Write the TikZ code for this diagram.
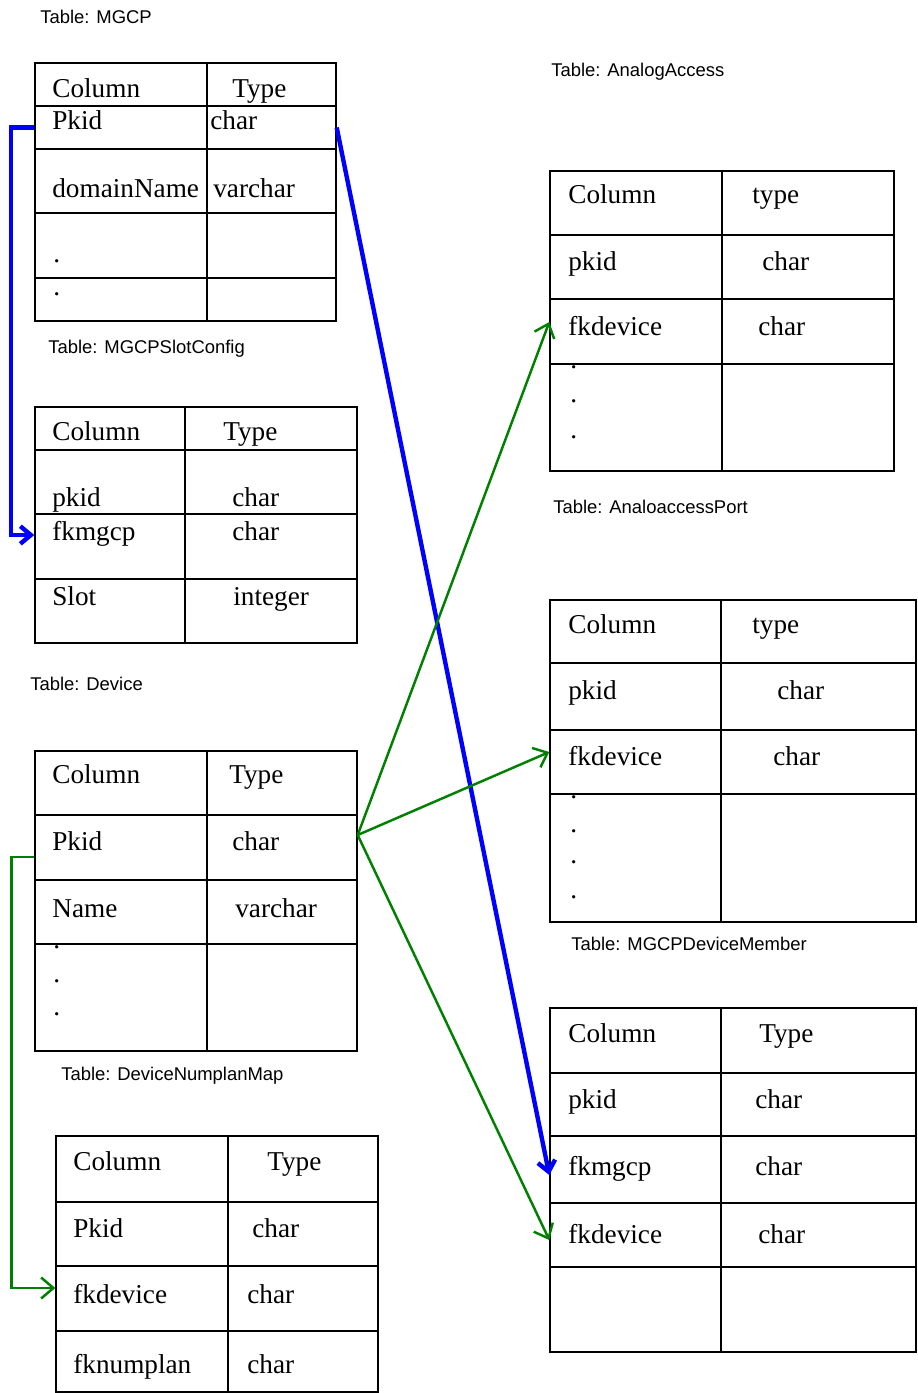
\documentclass[tikz,border=0pt]{standalone}
\usepackage{fontspec}
\setmainfont{Liberation Serif}
\newfontfamily\titlefont{Liberation Sans}
\usetikzlibrary{fit,arrows.meta}

% en rad i en tabell: navn, x venstre, x midt, x hoyre, y topp, y bunn
\newcommand{\tabrow}[6]{%
  \node[cell, fit={(#2,#5) (#3,#6)}] (#1l) {};
  \node[cell, fit={(#3,#5) (#4,#6)}] (#1r) {};}
% tekst i en rad: navn, x kolonne, kolonne, x type, type, grunnlinje
\newcommand{\rowtext}[6]{%
  \node[txt] (#1-name) at (#2,#6) {#3};
  \node[txt] (#1-type) at (#4,#6) {#5};}

\tikzset{
  cell/.style={draw, line width=0.8pt, inner sep=0pt},
  txt/.style={anchor=base west, inner sep=0pt, font=\fontsize{15.5}{18}\selectfont},
  title/.style={anchor=base west, inner sep=0pt, font=\titlefont\fontsize{10.5}{12}\selectfont},
  bluelink/.style={draw=blue, line width=2.5pt, -{Straight Barb[length=6pt,width=10pt]}},
  greenlink/.style={draw=green!50!black, line width=1.4pt, -{Straight Barb[length=7pt,width=12pt]}}
}

\begin{document}
\begin{tikzpicture}[x=0.02cm, y=-0.02cm]
        \useasboundingbox (0,0) rectangle (918,1393);

        % Tabell: MGCP
        \node[title] (t-mgcp) at (40,23) {Table: MGCP};
        \tabrow{mgcp0}{35}{207}{336}{63}{106}
        \tabrow{mgcp1}{35}{207}{336}{106}{149}
        \tabrow{mgcp2}{35}{207}{336}{149}{213}
        \tabrow{mgcp3}{35}{207}{336}{213}{278}
        \tabrow{mgcp4}{35}{207}{336}{278}{321}
        \rowtext{mgcp0}{52}{Column}{232}{Type}{97}
        \rowtext{mgcp1}{52}{Pkid}{210}{char}{129}
        \rowtext{mgcp2}{52}{domainName}{213}{varchar}{197}
        \node[txt] (mgcp3-dot) at (53,262) {.};
        \node[txt] (mgcp4-dot) at (53,295) {.};

        % Tabell: MGCPSlotConfig
        \node[title] (t-slot) at (48,353) {Table: MGCPSlotConfig};
        \tabrow{slot0}{35}{185}{357}{407}{450}
        \tabrow{slot1}{35}{185}{357}{450}{514}
        \tabrow{slot2}{35}{185}{357}{514}{579}
        \tabrow{slot3}{35}{185}{357}{579}{643}
        \rowtext{slot0}{52}{Column}{223}{Type}{440}
        \rowtext{slot1}{52}{pkid}{232}{char}{506}
        \rowtext{slot2}{52}{fkmgcp}{232}{char}{540}
        \rowtext{slot3}{52}{Slot}{233}{integer}{605}

        % Tabell: Device
        \node[title] (t-dev) at (30,690) {Table: Device};
        \tabrow{dev0}{35}{207}{357}{751}{815}
        \tabrow{dev1}{35}{207}{357}{815}{880}
        \tabrow{dev2}{35}{207}{357}{880}{944}
        \tabrow{dev3}{35}{207}{357}{944}{1051}
        \rowtext{dev0}{52}{Column}{229}{Type}{783}
        \rowtext{dev1}{52}{Pkid}{232}{char}{850}
        \rowtext{dev2}{52}{Name}{235}{varchar}{917}
        \node[txt] (dev3-dot1) at (53,948) {.};
        \node[txt] (dev3-dot2) at (53,982) {.};
        \node[txt] (dev3-dot3) at (53,1015) {.};

        % Tabell: DeviceNumplanMap
        \node[title] (t-dnm) at (61,1080) {Table: DeviceNumplanMap};
        \tabrow{dnm0}{56}{228}{378}{1136}{1202}
        \tabrow{dnm1}{56}{228}{378}{1202}{1266}
        \tabrow{dnm2}{56}{228}{378}{1266}{1331}
        \tabrow{dnm3}{56}{228}{378}{1331}{1392}
        \rowtext{dnm0}{73}{Column}{267}{Type}{1170}
        \rowtext{dnm1}{73}{Pkid}{252}{char}{1237}
        \rowtext{dnm2}{73}{fkdevice}{247}{char}{1303}
        \rowtext{dnm3}{73}{fknumplan}{247}{char}{1373}

        % Tabell: AnalogAccess
        \node[title] (t-aa) at (551,76) {Table: AnalogAccess};
        \tabrow{aa0}{550}{722}{894}{171}{235}
        \tabrow{aa1}{550}{722}{894}{235}{299}
        \tabrow{aa2}{550}{722}{894}{299}{364}
        \tabrow{aa3}{550}{722}{894}{364}{471}
        \rowtext{aa0}{568}{Column}{752}{type}{203}
        \rowtext{aa1}{568}{pkid}{762}{char}{270}
        \rowtext{aa2}{568}{fkdevice}{758}{char}{335}
        \node[txt] (aa3-dot1) at (570,368) {.};
        \node[txt] (aa3-dot2) at (570,402) {.};
        \node[txt] (aa3-dot3) at (570,438) {.};

        % Tabell: AnaloaccessPort
        \node[title] (t-aap) at (553,513) {Table: AnaloaccessPort};
        \tabrow{aap0}{550}{721}{916}{600}{663}
        \tabrow{aap1}{550}{721}{916}{663}{730}
        \tabrow{aap2}{550}{721}{916}{730}{794}
        \tabrow{aap3}{550}{721}{916}{794}{922}
        \rowtext{aap0}{568}{Column}{752}{type}{633}
        \rowtext{aap1}{568}{pkid}{777}{char}{699}
        \rowtext{aap2}{568}{fkdevice}{773}{char}{765}
        \node[txt] (aap3-dot1) at (570,798) {.};
        \node[txt] (aap3-dot2) at (570,832) {.};
        \node[txt] (aap3-dot3) at (570,863) {.};
        \node[txt] (aap3-dot4) at (570,898) {.};

        % Tabell: MGCPDeviceMember
        \node[title] (t-mdm) at (571,950) {Table: MGCPDeviceMember};
        \tabrow{mdm0}{550}{721}{916}{1008}{1073}
        \tabrow{mdm1}{550}{721}{916}{1073}{1136}
        \tabrow{mdm2}{550}{721}{916}{1136}{1203}
        \tabrow{mdm3}{550}{721}{916}{1203}{1267}
        \tabrow{mdm4}{550}{721}{916}{1267}{1352}
        \rowtext{mdm0}{568}{Column}{759}{Type}{1042}
        \rowtext{mdm1}{568}{pkid}{755}{char}{1108}
        \rowtext{mdm2}{568}{fkmgcp}{755}{char}{1175}
        \rowtext{mdm3}{568}{fkdevice}{758}{char}{1243}

        % Kanter
        \draw[bluelink] (mgcp1l.west) -- ++(-23,0) |- ([yshift=0.23cm]slot2l.west);
        \draw[bluelink] (mgcp1r.east) -- ([yshift=-0.11cm]mdm2l.west);
        \draw[greenlink] ([yshift=0.25cm]dev1r.east) -- ([yshift=0.19cm]aa2l.west);
        \draw[greenlink] ([yshift=0.25cm]dev1r.east) -- ([yshift=0.2cm]aap2l.west);
        \draw[greenlink] ([yshift=0.25cm]dev1r.east) -- ([yshift=-0.1cm]mdm3l.west);
        \draw[greenlink] ([yshift=-0.19cm]dev1l.west) -- ++(-23,0) |- ([yshift=0.21cm]dnm2l.west);
\end{tikzpicture}
\end{document}
